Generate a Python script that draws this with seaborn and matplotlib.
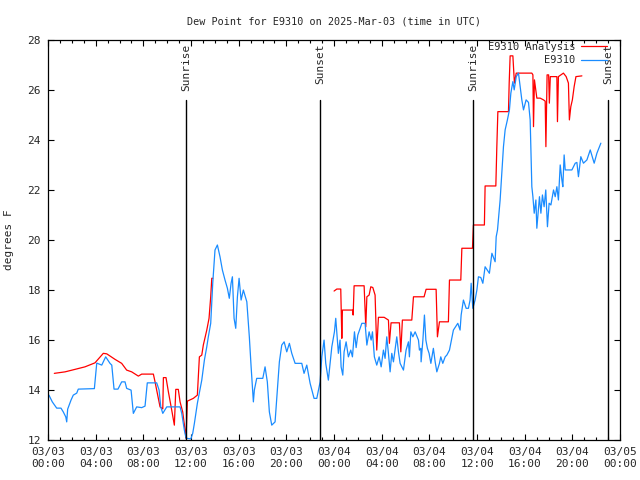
"""Dew point chart for station E9310, 2025-Mar-03 (observed vs analysis)."""

import matplotlib
matplotlib.use("Agg")
import matplotlib.dates as mdates
import matplotlib.pyplot as plt
import numpy as np
import pandas as pd
import seaborn as sns

START = pd.Timestamp("2025-03-03 00:00")

# observed dew point (hours since 03/03 00:00 UTC, degrees F)
obs_hours = [
    0.08, 0.36, 0.73, 1.09, 1.28, 1.49, 1.57, 1.65, 1.93, 2.12, 2.41, 2.54,
    3.89, 4.09, 4.51, 4.84, 5.20, 5.35, 5.54, 5.87, 6.18, 6.46, 6.60, 6.97,
    7.16, 7.44, 7.86, 8.14, 8.33, 9.12, 9.32, 9.46, 9.63, 9.96, 11.08, 11.22,
    11.44, 11.58, 11.98, 12.14, 12.28, 12.53, 12.90, 13.12, 13.32, 13.45, 13.65,
    13.82, 14.01, 14.21, 14.43, 14.63, 14.85, 15.05, 15.21, 15.36, 15.47, 15.61,
    15.75, 15.89, 16.03, 16.20, 16.39, 16.68, 16.89, 17.04, 17.23, 17.31, 17.51,
    18.02, 18.21, 18.40, 18.57, 18.77, 19.05, 19.24, 19.41, 19.61, 19.81, 20.03,
    20.25, 20.45, 20.73, 21.29, 21.48, 21.71, 21.99, 22.32, 22.55, 22.83, 22.97,
    23.16, 23.30, 23.52, 23.81, 24.03, 24.14, 24.36, 24.50, 24.59, 24.73, 24.84,
    25.01, 25.20, 25.40, 25.54, 25.71, 25.85, 25.99, 26.18, 26.33, 26.60, 26.75,
    26.94, 27.11, 27.22, 27.38, 27.58, 27.78, 27.95, 28.14, 28.28, 28.42, 28.56,
    28.70, 28.84, 28.98, 29.26, 29.40, 29.54, 29.82, 30.04, 30.24, 30.32, 30.44,
    30.61, 30.80, 31.08, 31.16, 31.28, 31.30, 31.45, 31.58, 31.70, 31.83, 31.97,
    32.12, 32.33, 32.48, 32.62, 32.84, 32.95, 33.12, 33.32, 33.46, 33.68, 33.79,
    34.01, 34.38, 34.57, 34.66, 34.85, 35.08, 35.27, 35.41, 35.50, 35.64, 35.83,
    35.98, 36.11, 36.31, 36.48, 36.67, 37.03, 37.24, 37.51, 37.60, 37.71, 37.93,
    38.07, 38.21, 38.35, 38.54, 38.71, 38.83, 39.00, 39.11, 39.28, 39.47, 39.61,
    39.75, 39.89, 40.11, 40.31, 40.45, 40.53, 40.59, 40.68, 40.79, 40.93, 41.01,
    41.23, 41.35, 41.48, 41.62, 41.76, 41.90, 42.04, 42.19, 42.41, 42.55, 42.69,
    42.82, 42.91, 42.97, 43.11, 43.19, 43.30, 43.39, 43.95, 44.23, 44.37, 44.50,
    44.70, 44.92, 45.21, 45.49, 45.82, 46.05, 46.38,
]
obs_dewpt = [
    13.80, 13.53, 13.28, 13.28, 13.13, 12.93, 12.73, 13.24, 13.60, 13.80, 13.88, 14.04,
    14.06, 15.08, 15.00, 15.33, 15.07, 15.00, 14.04, 14.04, 14.33, 14.33, 14.07, 14.00,
    13.07, 13.33, 13.30, 13.36, 14.29, 14.29, 14.00, 13.33, 13.07, 13.33, 13.33, 13.07,
    12.40, 12.08, 12.05, 12.27, 12.67, 13.47, 14.40, 15.20, 15.73, 16.13, 16.67,
    18.27, 19.60, 19.80, 19.33, 18.80, 18.40, 18.07, 17.67, 18.27, 18.53, 16.87,
    16.47, 17.73, 18.47, 17.60, 18.00, 17.53, 16.13, 14.93, 13.53, 14.00, 14.47,
    14.47, 14.93, 14.33, 13.13, 12.60, 12.73, 14.00, 15.13, 15.80, 15.93, 15.53,
    15.87, 15.47, 15.07, 15.07, 14.67, 15.00, 14.27, 13.67, 13.67, 14.33, 15.33,
    16.00, 15.07, 14.40, 15.73, 16.33, 16.87, 15.47, 16.00, 14.93, 14.60, 15.53,
    15.93, 15.33, 15.60, 15.33, 16.33, 15.70, 16.20, 16.47, 16.67, 16.67, 15.80,
    16.33, 16.00, 16.33, 15.33, 15.00, 15.33, 14.93, 15.60, 15.27, 16.13, 15.47,
    14.73, 15.47, 15.13, 16.13, 15.53, 15.07, 14.80, 15.60, 15.93, 15.33, 16.33,
    16.13, 16.33, 16.00, 15.60, 15.67, 15.13, 16.00, 17.00, 16.00, 15.67, 15.47,
    15.07, 15.67, 15.13, 14.73, 15.07, 15.33, 15.07, 15.33, 15.40, 15.60, 15.87,
    16.40, 16.67, 16.40, 17.00, 17.60, 17.27, 17.27, 17.60, 18.27, 17.27, 17.60,
    18.00, 18.53, 18.50, 18.27, 18.93, 18.67, 19.47, 19.13, 20.13, 20.40, 21.60,
    22.67, 23.73, 24.40, 24.80, 25.20, 25.87, 26.33, 26.00, 26.53, 26.67, 26.13,
    25.60, 25.20, 25.60, 25.50, 24.80, 23.33, 22.13, 21.73, 21.07, 21.60, 20.47,
    21.73, 21.07, 21.80, 21.33, 22.00, 20.53, 21.47, 21.40, 22.00, 21.73, 22.13,
    21.60, 22.40, 23.00, 22.40, 22.13, 23.40, 22.80, 22.80, 23.07, 23.10, 22.53,
    23.33, 23.07, 23.20, 23.60, 23.07, 23.47, 23.87,
]

# analysis dew point, two pieces with a gap in between
ana1_hours = [
    0.53, 1.43, 2.27, 3.10, 3.94, 4.64, 4.93, 5.62, 6.18, 6.60, 7.02, 7.58,
    7.86, 8.84, 8.98, 9.40, 9.63, 9.68, 9.90, 10.10, 10.38, 10.60, 10.72, 10.93,
    11.08, 11.30, 11.50, 11.58, 11.69, 12.19, 12.53, 12.70, 12.90, 13.03, 13.32,
    13.51, 13.65, 13.74, 13.82,
]
ana1_dewpt = [
    14.67, 14.73, 14.83, 14.93, 15.09, 15.47, 15.45, 15.23, 15.07, 14.80, 14.73, 14.56,
    14.64, 14.64, 14.33, 13.33, 13.25, 14.50, 14.50, 13.93, 13.20, 12.60, 14.03, 14.03,
    13.53, 13.13, 12.40, 12.08, 13.56, 13.67, 13.80, 15.33, 15.40, 15.80, 16.40,
    16.87, 17.73, 18.47, 18.47,
]
ana2_hours = [
    24.00, 24.23, 24.56, 24.65, 24.70, 25.57, 25.60, 25.68, 26.52, 26.66, 26.75, 26.94,
    27.08, 27.25, 27.44, 27.58, 27.72, 28.20, 28.56, 28.64, 28.78, 29.48, 29.60, 29.73,
    30.52, 30.66, 31.55, 31.64, 31.72, 32.56, 32.67, 32.84, 33.59, 33.68, 34.63, 34.72,
    35.61, 35.69, 36.61, 36.67, 37.57, 37.65, 37.74, 38.63, 38.69, 38.77, 39.00, 39.05,
    39.13, 39.28, 40.59, 40.68, 40.73, 40.81, 41.01, 41.29, 41.57, 41.71, 41.77, 41.87,
    42.00, 42.06, 42.14, 42.69, 42.74, 42.82, 43.24, 43.47, 43.66, 43.74, 43.86, 43.99,
    44.14, 44.29, 44.79,
]
ana2_dewpt = [
    17.96, 18.04, 18.04, 16.07, 17.20, 17.20, 17.00, 18.17, 18.17, 16.53, 17.73, 17.80,
    18.13, 18.10, 17.80, 15.60, 16.91, 16.91, 16.80, 15.87, 16.69, 16.69, 15.53, 16.80,
    16.80, 17.73, 17.73, 17.89, 18.03, 18.03, 16.13, 16.73, 16.73, 18.40, 18.40, 19.67,
    19.67, 20.60, 20.60, 22.16, 22.16, 23.67, 25.13, 25.13, 26.27, 27.36, 27.36, 26.93,
    26.27, 26.67, 26.67, 26.60, 24.53, 26.40, 25.67, 25.67, 25.60, 25.55, 23.73, 26.60,
    26.60, 25.47, 26.53, 26.53, 24.73, 26.53, 26.67, 26.53, 26.27, 24.80, 25.33, 25.60,
    26.13, 26.53, 26.56,
]

sun_labels = ["Sunrise", "Sunset", "Sunrise", "Sunset"]
sun_hours = [11.58, 22.83, 35.67, 47.00]

RED = "#ff0000"
BLUE = "#1a8cff"
MONO = ["DejaVu Sans Mono"]


def to_frame(hours, values):
    return pd.DataFrame({
        "time": START + pd.to_timedelta(np.array(hours), unit="h"),
        "dewpt": values,
    })


def main():
    sns.set_style("ticks")
    plt.rcParams["font.family"] = MONO
    plt.rcParams["font.size"] = 8

    fig = plt.figure(figsize=(6.4, 4.8), dpi=100)
    ax = fig.add_axes([0.075, 0.083, 0.894, 0.834])

    sns.lineplot(data=to_frame(ana1_hours, ana1_dewpt), x="time", y="dewpt",
                 ax=ax, color=RED, lw=0.9, sort=False, label="E9310 Analysis")
    sns.lineplot(data=to_frame(ana2_hours, ana2_dewpt), x="time", y="dewpt",
                 ax=ax, color=RED, lw=0.9, sort=False)
    sns.lineplot(data=to_frame(obs_hours, obs_dewpt), x="time", y="dewpt",
                 ax=ax, color=BLUE, lw=0.9, sort=False, label="E9310")

    # sunrise / sunset markers
    for name, h in zip(sun_labels, sun_hours):
        t = START + pd.Timedelta(hours=h)
        ax.plot([t, t], [12, 25.6], color="black", lw=1.0)
        ax.text(t, 27.85, name, rotation=90, ha="center", va="top",
                fontsize=8, family=MONO)

    ax.set_xlim(START, START + pd.Timedelta(hours=48))
    ax.set_ylim(12, 28)
    ax.set_yticks(np.arange(12, 29, 2))
    ax.xaxis.set_major_locator(mdates.HourLocator(byhour=range(0, 24, 4)))
    ax.xaxis.set_minor_locator(mdates.HourLocator())
    ax.xaxis.set_major_formatter(mdates.DateFormatter("%m/%d\n%H:%M"))

    ax.tick_params(which="both", direction="in", top=True, right=True,
                   color="black", labelsize=8, width=0.8)
    ax.tick_params(which="major", length=4.5, pad=5)
    ax.tick_params(which="minor", length=2.2)
    for spine in ax.spines.values():
        spine.set_color("black")
        spine.set_linewidth(0.9)

    ax.set_xlabel("")
    ax.set_ylabel("degrees F", fontsize=8, labelpad=10)
    ax.set_title("Dew Point for E9310 on 2025-Mar-03 (time in UTC)",
                 fontsize=7.3, pad=11)

    ax.legend(loc="upper right", bbox_to_anchor=(0.984, 1.006), frameon=False,
              markerfirst=False, handlelength=2.5, fontsize=7.5,
              borderaxespad=0.0, labelspacing=0.35, handletextpad=0.5)

    fig.savefig("out.png", dpi=100)
    plt.close(fig)


if __name__ == "__main__":
    main()
